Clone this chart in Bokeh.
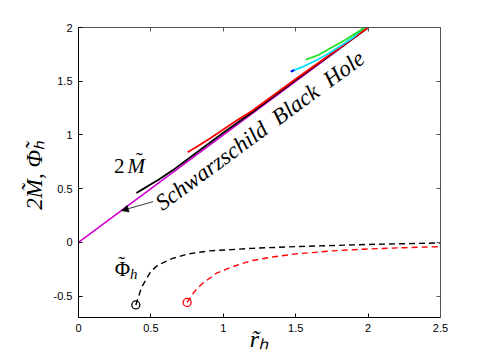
from bokeh.plotting import figure
from bokeh.models import Range1d, LinearAxis, FixedTicker, Label, Arrow, NormalHead
from bokeh.embed import file_html
from bokeh.resources import INLINE

# ---- data ----
x_ticks = [0, 0.5, 1, 1.5, 2, 2.5]
x_tick_labels = ["0", "0.5", "1", "1.5", "2", "2.5"]
y_ticks = [-0.5, 0, 0.5, 1, 1.5, 2]
y_tick_labels = ["-0.5", "0", "0.5", "1", "1.5", "2"]

schw_r = [0.0, 2.0]
schw_M = [0.0, 2.0]

black_r = [0.40, 0.45, 0.50, 0.55, 0.65, 0.80, 1.00, 1.20, 1.50, 2.00]
black_M = [0.46, 0.50, 0.54, 0.58, 0.67, 0.82, 1.02, 1.21, 1.51, 2.00]

red_r = [0.753, 0.80, 0.90, 1.00, 1.10, 1.20, 1.50, 2.00]
red_M = [0.838, 0.875, 0.96, 1.05, 1.14, 1.225, 1.52, 2.00]

blue_r = [1.466, 1.49]
blue_M = [1.589, 1.603]

cyan_r = [1.466, 1.55, 1.65, 1.724, 1.80, 1.90, 1.97]
cyan_M = [1.589, 1.635, 1.70, 1.755, 1.82, 1.91, 2.00]

green_r = [1.568, 1.65, 1.77, 1.85, 1.92, 1.98]
green_M = [1.700, 1.74, 1.83, 1.89, 1.95, 2.00]

phi_black_r = [0.396, 0.435, 0.50, 0.55, 0.65, 0.757, 0.90, 1.057, 1.20, 1.50, 2.00, 2.50]
phi_black = [-0.583, -0.42, -0.27, -0.21, -0.15, -0.108, -0.08, -0.068, -0.056, -0.04, -0.02, -0.006]

phi_red_r = [0.75, 0.80, 0.85, 0.95, 1.057, 1.195, 1.35, 1.50, 1.75, 2.00, 2.25, 2.50]
phi_red = [-0.56, -0.46, -0.39, -0.29, -0.23, -0.17, -0.135, -0.108, -0.08, -0.062, -0.05, -0.04]

start_black = ([0.396], [-0.583])
start_red = ([0.75], [-0.56])

# ---- figure ----
p = figure(frame_width=362, frame_height=290, output_backend="svg", toolbar_location=None,
           x_range=Range1d(0, 2.5), y_range=Range1d(-0.7, 2),
           x_axis_location=None, y_axis_location=None,
           min_border_left=78, min_border_right=40, min_border_top=27, min_border_bottom=38)
p.outline_line_color = None
p.grid.visible = False
p.background_fill_color = "white"
p.border_fill_color = "white"

def make_axis(ticks, labels, show_labels, color):
    shown = labels if show_labels else ["" for _ in labels]
    ax = LinearAxis(ticker=FixedTicker(ticks=ticks),
                    major_label_overrides={t: l for t, l in zip(ticks, shown)})
    ax.major_tick_in = 4
    ax.major_tick_out = 0
    ax.minor_tick_line_color = None
    ax.axis_line_color = color
    ax.major_tick_line_color = color
    ax.axis_line_width = 1
    ax.major_label_text_font = "Liberation Sans"
    ax.major_label_text_font_size = "11px"
    ax.major_label_text_color = "black"
    ax.major_label_standoff = 6
    return ax

xaxis = make_axis(x_ticks, x_tick_labels, True, "black")
xaxis.axis_label = "r\u0303\u2095"
xaxis.axis_label_text_font = "Liberation Serif"
xaxis.axis_label_text_font_style = "italic"
xaxis.axis_label_text_font_size = "24px"
xaxis.axis_label_text_color = "black"
xaxis.axis_label_standoff = -9
p.add_layout(xaxis, "below")

yaxis = make_axis(y_ticks, y_tick_labels, True, "black")
yaxis.axis_label = "2M\u0303,  \u03A6\u0303\u2095"
yaxis.axis_label_text_font = "Liberation Serif"
yaxis.axis_label_text_font_style = "italic"
yaxis.axis_label_text_font_size = "23px"
yaxis.axis_label_text_color = "black"
yaxis.axis_label_standoff = 4
p.add_layout(yaxis, "left")

p.add_layout(make_axis(x_ticks, x_tick_labels, False, "#555555"), "above")
p.add_layout(make_axis(y_ticks, y_tick_labels, False, "#555555"), "right")

# ---- curves ----
p.line(schw_r, schw_M, color="#d000d0", line_width=1.6)
p.line(black_r, black_M, color="black", line_width=1.8)
p.line(red_r, red_M, color="#ff0000", line_width=1.8)
p.line(cyan_r, cyan_M, color="#00e0ff", line_width=1.8)
p.line(blue_r, blue_M, color="#0000ff", line_width=1.8)
p.line(green_r, green_M, color="#22e022", line_width=1.8)

p.line(phi_black_r, phi_black, color="black", line_width=1.4, line_dash="6 4")
p.line(phi_red_r, phi_red, color="#ff0000", line_width=1.4, line_dash="6 4")
p.scatter(*start_black, marker="circle", size=8, fill_color=None, line_color="black", line_width=1.3)
p.scatter(*start_red, marker="circle", size=8, fill_color=None, line_color="#ff0000", line_width=1.3)

# ---- annotations ----
p.add_layout(Arrow(end=NormalHead(size=7, fill_color="black", line_color="black", line_width=0.5),
                   x_start=0.516, y_start=0.379, x_end=0.297, y_end=0.295,
                   line_color="black", line_width=0.8))

serif = "Liberation Serif"
def lab(x, y, text, size, style="normal", angle=0):
    p.add_layout(Label(x=x, y=y, text=text, text_font=serif, text_font_size=size,
                       text_font_style=style, text_color="black", angle=angle,
                       angle_units="deg", text_align="left", text_baseline="alphabetic"))

lab(0.55, 0.345, "Schwarzschild\u2002Black\u2002Hole", "23px", "italic", 36.3)
lab(0.246, 0.714, "2", "21px")
lab(0.338, 0.714, "M", "21px", "italic")
lab(0.395, 0.765, "\u02DC", "21px")
lab(0.25, -0.248, "\u03A6", "21px")
lab(0.272, -0.20, "\u02DC", "21px")
lab(0.355, -0.294, "h", "15px", "italic")

open("out.html", "w").write(file_html(p, INLINE))
